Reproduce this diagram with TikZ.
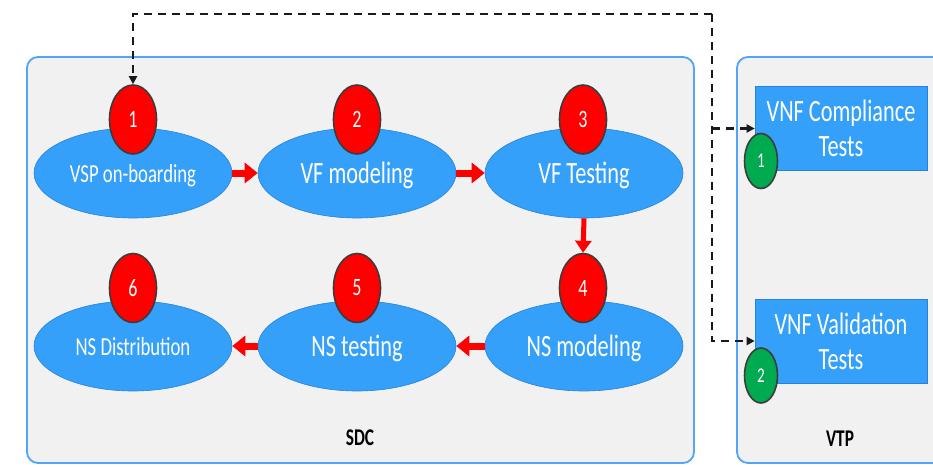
\documentclass[tikz,border=0pt]{standalone}
\usepackage{fontspec}
\setmainfont{Carlito}
\newfontfamily\condf[FakeStretch=0.72]{Carlito}
\usetikzlibrary{arrows.meta,shapes.geometric}
\definecolor{ellblue}{RGB}{52,160,250}
\definecolor{ellborder}{RGB}{40,130,215}
\definecolor{panelfill}{RGB}{241,241,241}
\definecolor{panelborder}{RGB}{80,165,250}
\definecolor{greenc}{RGB}{0,170,80}
\definecolor{ringgray}{RGB}{60,60,60}
\begin{document}
\begin{tikzpicture}[x=1pt,y=-1pt,
  panel/.style={draw=panelborder, fill=panelfill, line width=1.8pt, rounded corners=11pt},
  stage/.style={ellipse, draw=ellborder, fill=ellblue, line width=0.6pt, minimum width=198pt, minimum height=90pt, inner sep=0pt, text depth=0pt, text=white, font=\condf\fontsize{31}{33}\selectfont},
  stagesm/.style={stage, font=\condf\fontsize{26}{28}\selectfont},
  redbadge/.style={ellipse, draw=ringgray, fill=red, line width=1.6pt, minimum width=47pt, minimum height=69pt, inner sep=0pt, text=white, font=\condf\fontsize{25}{27}\selectfont},
  greenbadge/.style={ellipse, draw=ringgray, fill=greenc, line width=1.6pt, minimum width=33pt, minimum height=55pt, inner sep=0pt, text=white, font=\condf\fontsize{21}{23}\selectfont},
  testbox/.style={rectangle, draw=ellborder, fill=ellblue, line width=0.6pt, minimum width=172pt, minimum height=84pt, inner sep=0pt, align=center, text=white, font=\condf\fontsize{31}{35}\selectfont},
  flowarr/.style={draw=red, line width=7pt, -{Triangle[length=13pt,width=20pt]}},
  flowarrv/.style={draw=red, line width=5pt, -{Triangle[length=12pt,width=16pt]}},
  dsh/.style={draw=black!90, line width=2.6pt, dash pattern=on 8pt off 6pt, -{Triangle[length=8pt,width=8pt]}},
  paneltitle/.style={font=\condf\bfseries\fontsize{24}{26}\selectfont, text=black}
]
\useasboundingbox (0,0) rectangle (933,466);
\clip (0,0) rectangle (933,466);
\fill[white] (0,0) rectangle (933,466);

% panels
\draw[panel] (27,57) rectangle (694,463);
\draw[panel] (737,57) rectangle (960,463);
\node[paneltitle] (sdc) at (360,438) {SDC};
\node[paneltitle] (vtp) at (840,439) {VTP};

% stages
\node[stagesm] (e1) at (133,173) {VSP on-boarding};
\node[stage]   (e2) at (357,173) {VF modeling};
\node[stage]   (e3) at (584,173) {VF Testing};
\node[stage]   (e4) at (584,346) {NS modeling};
\node[stage]   (e5) at (357,346) {NS testing};
\node[stagesm] (e6) at (133,346) {NS Distribution};

% badges
\node[redbadge] (r1) at (133,119.5) {1};
\node[redbadge] (r2) at (357,119.5) {2};
\node[redbadge] (r3) at (583,119.5) {3};
\node[redbadge] (r4) at (583,288) {4};
\node[redbadge] (r5) at (357,288) {5};
\node[redbadge] (r6) at (133,288) {6};

% flow arrows
\draw[flowarr] (e1.east) -- (e2.west);
\draw[flowarr] (e2.east) -- (e3.west);
\draw[flowarrv] (e3.south) -- (r4.north);
\draw[flowarr] (e4.west) -- (e5.east);
\draw[flowarr] (e5.west) -- (e6.east);

% VTP boxes
\node[testbox] (c) at (841,128.5) {VNF Compliance\\Tests};
\node[testbox] (v) at (841,341) {VNF Validation\\Tests};
\node[greenbadge] (g1) at (761,161) {1};
\node[greenbadge] (g2) at (761,375.5) {2};

% dashed connectors
\coordinate (j) at (712,14);
\draw[dsh] (j) -| (r1.north);
\draw[dsh] (j) |- (v.west);
\draw[dsh] (j |- c.west) -- (c.west);
\end{tikzpicture}
\end{document}
